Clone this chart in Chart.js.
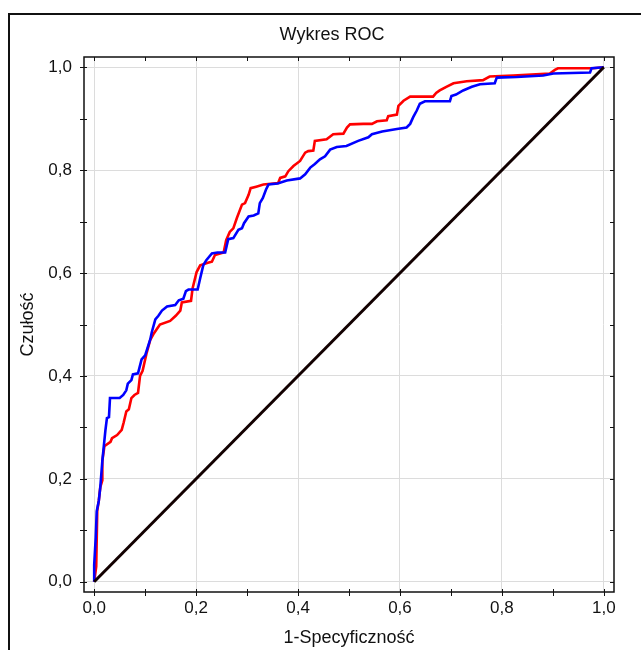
<!DOCTYPE html>
<html>
<head>
<meta charset="utf-8">
<script src="https://cdn.jsdelivr.net/npm/chart.js@4.4.1/dist/chart.umd.min.js"></script>
<style>
  html, body { margin: 0; padding: 0; background: #fff; overflow: hidden; width: 641px; height: 650px; }
  #frame {
    position: absolute; left: 8px; top: 13px; width: 700px; height: 700px;
    border-left: 2px solid #111; border-top: 2px solid #111;
  }
  #chart { display: block; }
</style>
</head>
<body>
<div id="frame"><canvas id="chart" width="644" height="650"></canvas></div>
<script>
// ROC curves (1-specificity, sensitivity).
const redFpr = [0, 0.004, 0.006, 0.009, 0.012, 0.016, 0.016, 0.02, 0.022, 0.032, 0.035, 0.045, 0.054, 0.058, 0.063, 0.068, 0.073, 0.079, 0.086, 0.09, 0.095,
  0.103, 0.11, 0.116, 0.129, 0.149, 0.16, 0.169, 0.172, 0.19, 0.193, 0.201, 0.208, 0.223, 0.231, 0.237, 0.254, 0.259, 0.266, 0.273, 0.28, 0.29, 0.296,
  0.303, 0.307, 0.318, 0.332, 0.361, 0.365, 0.375, 0.381, 0.391, 0.404, 0.414, 0.42, 0.43, 0.433, 0.456, 0.469, 0.489, 0.496, 0.502, 0.528, 0.545,
  0.555, 0.574, 0.577, 0.594, 0.597, 0.607, 0.62, 0.665, 0.671, 0.678, 0.691, 0.705, 0.718, 0.731, 0.763, 0.776, 0.822, 0.894, 0.904, 0.91, 0.979, 1];
const redTpr = [0, 0.03, 0.138, 0.157, 0.184, 0.197, 0.235, 0.263, 0.265, 0.272, 0.279, 0.285, 0.295, 0.31, 0.331, 0.335, 0.357, 0.363, 0.367, 0.4, 0.41,
  0.445, 0.47, 0.481, 0.5, 0.507, 0.517, 0.527, 0.543, 0.546, 0.57, 0.602, 0.615, 0.62, 0.622, 0.635, 0.64, 0.664, 0.68, 0.687, 0.707, 0.733, 0.736,
  0.752, 0.765, 0.768, 0.772, 0.775, 0.785, 0.788, 0.798, 0.808, 0.818, 0.834, 0.837, 0.838, 0.857, 0.86, 0.87, 0.871, 0.883, 0.889, 0.89, 0.89,
  0.895, 0.897, 0.905, 0.908, 0.925, 0.935, 0.943, 0.943, 0.95, 0.955, 0.962, 0.969, 0.971, 0.973, 0.975, 0.982, 0.984, 0.988, 0.995, 0.998, 0.998, 1];

const blueFpr = [0, 0, 0.003, 0.005, 0.009, 0.012, 0.016, 0.018, 0.022, 0.025, 0.029, 0.031, 0.05, 0.057, 0.063, 0.066, 0.073, 0.076, 0.086, 0.093, 0.1,
  0.11, 0.113, 0.12, 0.126, 0.133, 0.143, 0.159, 0.166, 0.175, 0.18, 0.185, 0.203, 0.208, 0.214, 0.22, 0.231, 0.242, 0.257, 0.263, 0.273, 0.283, 0.29,
  0.294, 0.303, 0.313, 0.322, 0.325, 0.331, 0.337, 0.342, 0.36, 0.378, 0.404, 0.414, 0.424, 0.433, 0.443, 0.453, 0.463, 0.476, 0.495, 0.518, 0.538,
  0.545, 0.565, 0.594, 0.613, 0.62, 0.626, 0.633, 0.639, 0.649, 0.698, 0.701, 0.71, 0.724, 0.741, 0.757, 0.786, 0.79, 0.829, 0.881, 0.901, 0.973, 0.976, 1];
const blueTpr = [0, 0.033, 0.086, 0.137, 0.157, 0.184, 0.235, 0.255, 0.294, 0.318, 0.32, 0.357, 0.357, 0.363, 0.372, 0.385, 0.392, 0.403, 0.405, 0.432, 0.44,
  0.471, 0.485, 0.51, 0.517, 0.527, 0.535, 0.538, 0.547, 0.55, 0.565, 0.568, 0.568, 0.59, 0.615, 0.625, 0.638, 0.64, 0.64, 0.666, 0.668, 0.684, 0.687,
  0.697, 0.71, 0.712, 0.716, 0.736, 0.746, 0.762, 0.772, 0.774, 0.78, 0.784, 0.792, 0.805, 0.812, 0.821, 0.827, 0.84, 0.845, 0.847, 0.857, 0.864,
  0.87, 0.875, 0.88, 0.883, 0.89, 0.903, 0.916, 0.929, 0.934, 0.934, 0.944, 0.947, 0.955, 0.962, 0.967, 0.969, 0.98, 0.981, 0.984, 0.988, 0.99, 0.998, 1];

const diagX = [0, 1];
const diagY = [0, 1];

const tickValues = [0, 0.1, 0.2, 0.3, 0.4, 0.5, 0.6, 0.7, 0.8, 0.9, 1.0];

const pts = (xs, ys) => xs.map((x, i) => ({ x, y: ys[i] }));
const isMajor = v => Math.round(v * 10) % 2 === 0;
const fmt = v => isMajor(v) ? v.toFixed(1).replace('.', ',') : '';

// Plot box with short tick marks on all four sides.
const framePlugin = {
  id: 'frame',
  afterDraw(chart) {
    const { ctx, chartArea: a, scales: { x, y } } = chart;
    ctx.save();
    ctx.strokeStyle = '#111';
    ctx.lineWidth = 1.5;
    ctx.strokeRect(a.left, a.top, a.right - a.left, a.bottom - a.top);
    ctx.lineWidth = 1;
    ctx.beginPath();
    tickValues.forEach(v => {
      const px = Math.round(x.getPixelForValue(v)) + 0.5;
      ctx.moveTo(px, a.bottom - 3); ctx.lineTo(px, a.bottom + 4);
      ctx.moveTo(px, a.top); ctx.lineTo(px, a.top + 4);
      const py = Math.round(y.getPixelForValue(v)) + 0.5;
      ctx.moveTo(a.left - 4, py); ctx.lineTo(a.left + 3, py);
      ctx.moveTo(a.right - 4, py); ctx.lineTo(a.right, py);
    });
    ctx.stroke();
    ctx.restore();
  }
};

const axisBase = {
  type: 'linear',
  min: -0.02,
  max: 1.02,
  afterBuildTicks: s => { s.ticks = tickValues.map(v => ({ value: v })); },
  grid: {
    color: c => (c.tick && isMajor(c.tick.value)) ? '#dcdcdc' : 'rgba(0,0,0,0)',
    lineWidth: 1,
    drawTicks: false,
  },
  border: { display: false },
};

new Chart(document.getElementById('chart'), {
  type: 'scatter',
  data: {
    datasets: [
      { label: 'diag', data: pts(diagX, diagY), showLine: true, borderColor: '#120000', borderWidth: 3, pointRadius: 0 },
      { label: 'blue', data: pts(blueFpr, blueTpr), showLine: true, borderColor: '#0000ff', borderWidth: 2.6, pointRadius: 0 },
      { label: 'red', data: pts(redFpr, redTpr), showLine: true, borderColor: '#ff0000', borderWidth: 2.6, pointRadius: 0 },
    ],
  },
  options: {
    responsive: false,
    animation: false,
    layout: { padding: 0 },
    plugins: {
      legend: { display: false },
      tooltip: { enabled: false },
      title: {
        display: true,
        text: 'Wykres ROC',
        color: '#111',
        font: { family: 'Liberation Sans', size: 18, weight: 'normal' },
        padding: { top: 9, bottom: 11.4 },
      },
    },
    scales: {
      x: {
        ...axisBase,
        afterFit: s => { s.height = 73; },
        ticks: { color: '#111', padding: 6, maxRotation: 0, autoSkip: false,
                 font: { family: 'Liberation Sans', size: 17 }, callback: fmt },
        title: { display: true, text: '1-Specyficzność', color: '#111',
                 font: { family: 'Liberation Sans', size: 18 }, padding: { top: 0, bottom: 16 } },
      },
      y: {
        ...axisBase,
        afterFit: s => { s.width = 74; },
        ticks: { color: '#111', padding: 12, autoSkip: false,
                 font: { family: 'Liberation Sans', size: 17 }, callback: fmt },
        title: { display: true, text: 'Czułość', color: '#111',
                 font: { family: 'Liberation Sans', size: 18 }, padding: { top: 7, bottom: 0 } },
      },
      // empty right-hand strip so the title stays centred on the whole frame
      yRight: {
        type: 'linear',
        position: 'right',
        min: -0.02,
        max: 1.02,
        afterFit: s => { s.width = 40; },
        grid: { display: false },
        border: { display: false },
        ticks: { display: false },
      },
    },
  },
  plugins: [framePlugin],
});
</script>
</body>
</html>
